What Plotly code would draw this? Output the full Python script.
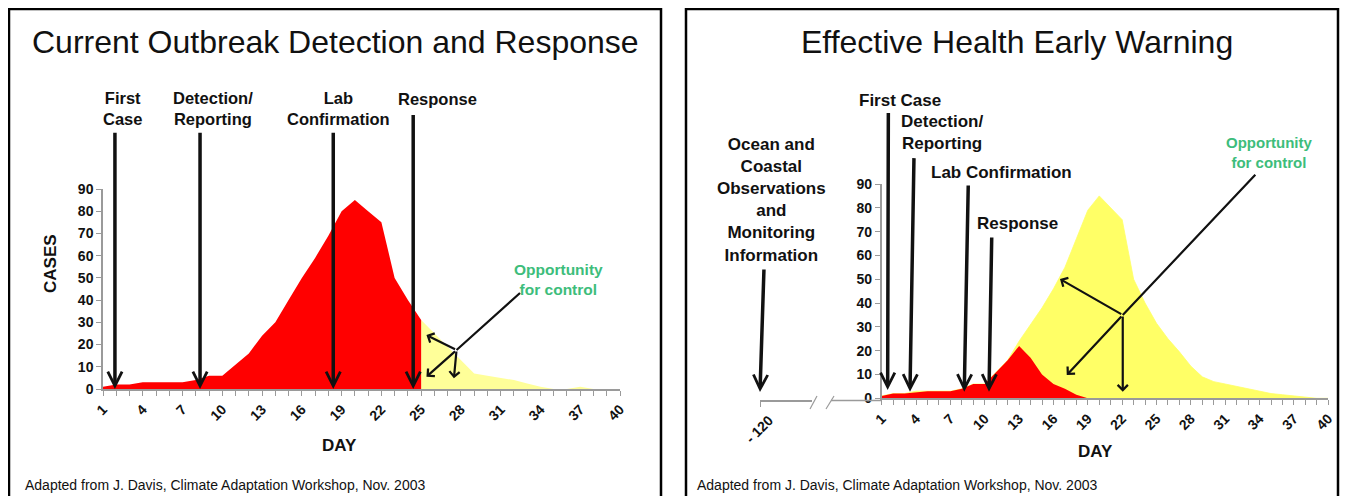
import plotly.graph_objects as go

# The page body has an 8px margin; the figure fills the rest of the 1348x496 window.
OFF = 8
W, H = 1348 - OFF, 496 - OFF

# ---------------- data ----------------
days = list(range(1, 41))
label_days = [1, 4, 7, 10, 13, 16, 19, 22, 25, 28, 31, 34, 37, 40]
y_ticks = [0, 10, 20, 30, 40, 50, 60, 70, 80, 90]

# Left panel: current outbreak curve (red until response, yellow afterwards)
left_cases = [1, 2, 2, 3, 3, 3, 3, 4, 6, 6, 11, 16, 24, 30, 40, 50, 59, 69, 80, 85,
              80, 75, 50, 40, 31, 25, 19, 13, 7, 6, 5, 4, 2.5, 1, 0, 0, 1, 0, 0, 0]
left_response_day = 25

# Right panel: full outbreak (yellow) and curve with early warning (red)
right_full = [1, 2, 2, 3, 3, 3, 3, 4, 6, 6, 11, 16, 24, 31, 38, 46, 55, 67, 79, 85,
              80, 75, 50, 40, 31.5, 25, 19.5, 13.5, 9, 7, 6, 5, 4, 3, 2, 1.5, 1, 0.3, 0, 0]
right_red_days = list(range(1, 20))
right_red = [1, 2, 2, 2.5, 3, 3, 3, 4, 6, 6, 11, 16, 22, 17, 10, 6, 4, 1.5, 0]

# Event arrows (label, day of head, tail height in cases)
left_events = [("First\nCase", 1.9, 116), ("Detection/\nReporting", 8.32, 116),
               ("Lab\nConfirmation", 18.37, 116), ("Response", 24.4, 124)]
# (label, head day, tail day, head height, tail height)
right_events = [("First Case", 1.52, 1.58, 3.5, 120.4), ("Detection/ Reporting", 3.47, 3.82, 2.8, 101.5),
                ("Lab Confirmation", 8.21, 8.56, 2.8, 90), ("Response", 10.37, 10.61, 2.8, 68.2)]
early_day = -120

FONT = "Liberation Sans, Arial, sans-serif"
GRAY = "#9a9a9a"
GREEN = "#3dbd7b"
RED = "#ff0000"

def px(x):
    return (x - OFF) / W

def py(y):
    return 1 - (y - OFF) / H

fig = go.Figure()

# Left panel areas
n_red = days.index(left_response_day) + 1
fig.add_trace(go.Scatter(x=days[n_red - 1:], y=left_cases[n_red - 1:], fill="tozeroy",
                         fillcolor="#ffff99", line=dict(width=0, color="#ffff99"),
                         mode="lines", xaxis="x", yaxis="y", hoverinfo="skip"))
fig.add_trace(go.Scatter(x=days[:n_red], y=left_cases[:n_red], fill="tozeroy",
                         fillcolor=RED, line=dict(width=0, color=RED),
                         mode="lines", xaxis="x", yaxis="y", hoverinfo="skip"))

# Right panel areas
fig.add_trace(go.Scatter(x=days, y=right_full, fill="tozeroy",
                         fillcolor="#ffff66", line=dict(width=0.8, color="#ffff66"),
                         mode="lines", xaxis="x2", yaxis="y2", hoverinfo="skip"))
fig.add_trace(go.Scatter(x=right_red_days, y=right_red, fill="tozeroy",
                         fillcolor=RED, line=dict(width=0, color=RED),
                         mode="lines", xaxis="x2", yaxis="y2", hoverinfo="skip"))
# anchor trace for the broken (-120) axis
fig.add_trace(go.Scatter(x=[early_day], y=[0], mode="markers", marker=dict(opacity=0),
                         xaxis="x3", yaxis="y2", hoverinfo="skip"))

ax_common = dict(showgrid=False, zeroline=False, showline=True, linecolor=GRAY, linewidth=1.5,
                 ticks="outside", ticklen=5, tickcolor=GRAY, tickwidth=1.2,
                 tickfont=dict(family=FONT, size=14, color="#111", weight="bold"), fixedrange=True)
ytick_font = dict(family=FONT, size=14, color="#111", weight="bold")

xt = dict(tickvals=days, ticktext=[str(d) if d in label_days else "" for d in days], tickangle=-45)
yt = dict(tickvals=y_ticks, ticktext=[str(v) for v in y_ticks])

fig.update_layout(
    width=W, height=H, margin=dict(l=0, r=0, t=0, b=0, autoexpand=False),
    paper_bgcolor="white", plot_bgcolor="rgba(0,0,0,0)", showlegend=False,
    xaxis=dict(domain=[px(103), px(620)], range=[1, 40], anchor="y", **xt, **ax_common),
    yaxis=dict(domain=[py(389), py(189)], range=[0, 90], anchor="x", **yt,
               **{**ax_common, "tickfont": ytick_font}),
    xaxis2=dict(domain=[px(881.7), px(1328.3)], range=[1, 40], anchor="y2", **xt, **ax_common),
    yaxis2=dict(domain=[py(398.3), py(184)], range=[0, 90], anchor="x2", **yt,
                **{**ax_common, "tickfont": ytick_font}),
    xaxis3=dict(domain=[px(760), px(812)], range=[early_day, early_day + 10], anchor="free",
                position=py(401), tickvals=[early_day], ticktext=["- 120"], tickangle=-45,
                ticklabelshift=9, **ax_common),
)

shapes = []
# panel borders
for x0, x1 in [(9, 661), (686, 1338)]:
    shapes.append(dict(type="rect", xref="paper", yref="paper", x0=px(x0), x1=px(x1), y0=py(505), y1=py(9),
                       line=dict(color="black", width=2.5), fillcolor="rgba(0,0,0,0)"))
# broken axis pieces
shapes.append(dict(type="line", xref="paper", yref="paper", x0=px(831), x1=px(882), y0=py(400.5), y1=py(400.5),
                   line=dict(color=GRAY, width=1.5)))
for xa, xb in [(810, 817), (826, 834)]:
    shapes.append(dict(type="line", xref="paper", yref="paper", x0=px(xa), x1=px(xb), y0=py(409), y1=py(396),
                       line=dict(color=GRAY, width=1.2)))
fig.update_layout(shapes=shapes)

ann = []

def text(x, y, s, size, color="#111", bold=True, xanchor="center", yanchor="middle", angle=0):
    ann.append(dict(xref="paper", yref="paper", x=px(x), y=py(y), text=s.replace("\n", "<br>"),
                    showarrow=False, xanchor=xanchor, yanchor=yanchor, textangle=angle,
                    font=dict(family=FONT, size=size, color=color, weight="bold" if bold else "normal")))

def arrow(xr, yr, x, y, ax, ay, width=3.5, head=5, size=0.8):
    ann.append(dict(xref=xr, yref=yr, axref=xr, ayref=yr, x=x, y=y, ax=ax, ay=ay, text="",
                    showarrow=True, arrowhead=head, arrowwidth=width, arrowsize=size, arrowcolor="#111"))

# titles
text(335, 42, "Current Outbreak Detection and Response", 32, bold=False)
text(1017, 42, "Effective Health Early Warning", 32, bold=False)
# footers
text(23, 485, "Adapted from J. Davis, Climate Adaptation Workshop, Nov. 2003", 14, bold=False, xanchor="left")
text(695, 485, "Adapted from J. Davis, Climate Adaptation Workshop, Nov. 2003", 14, bold=False, xanchor="left")
# axis titles
text(339, 445, "DAY", 17)
text(1095, 451, "DAY", 17)
text(50, 264, "CASES", 17, angle=-90)

# left event labels and arrows
left_label_pos = [(122, 109), (213, 109), (338, 109), (437, 99)]
for (lab, d, tail), (lx, ly) in zip(left_events, left_label_pos):
    text(lx, ly, lab, 16.5)
    arrow("x", "y", d, 0, d, tail)

# right event labels and arrows
right_label_pos = [(900, 100), (942, 133), (1001, 172), (1017, 223)]
for (lab, dh, dt, vh, vt), (lx, ly) in zip(right_events, right_label_pos):
    text(lx, ly, lab.replace("/ ", "/\n"), 17)
    arrow("x2", "y2", dh, vh, dt, vt)
text(771, 200, "Ocean and\nCoastal\nObservations\nand\nMonitoring\nInformation", 17)
arrow("x3", "y2", early_day, 2.6, early_day + 0.77, 54.7)

# opportunity for control (left)
text(558, 279, "Opportunity\nfor control", 15.5, color=GREEN)
jx, jy = 27.67, 17.55
arrow("x", "y", jx, jy, 32.57, 43.8, width=2.2, head=0)
for hx, hy in [(25.4, 24.3), (25.4, 5.5), (27.47, 4.8)]:
    arrow("x", "y", hx, hy, jx, jy, width=2.2, head=4, size=0.9)

# opportunity for control (right)
text(1269, 152.5, "Opportunity\nfor control", 15, color=GREEN)
jx2, jy2 = 22.05, 35.0
arrow("x2", "y2", jx2, jy2, 33.75, 94.5, width=2.2, head=0)
for hx, hy in [(16.57, 50.1), (17.16, 9.8), (22.05, 2.8)]:
    arrow("x2", "y2", hx, hy, jx2, jy2, width=2.2, head=4, size=0.9)

fig.update_layout(annotations=ann)
fig.write_html("out.html")
